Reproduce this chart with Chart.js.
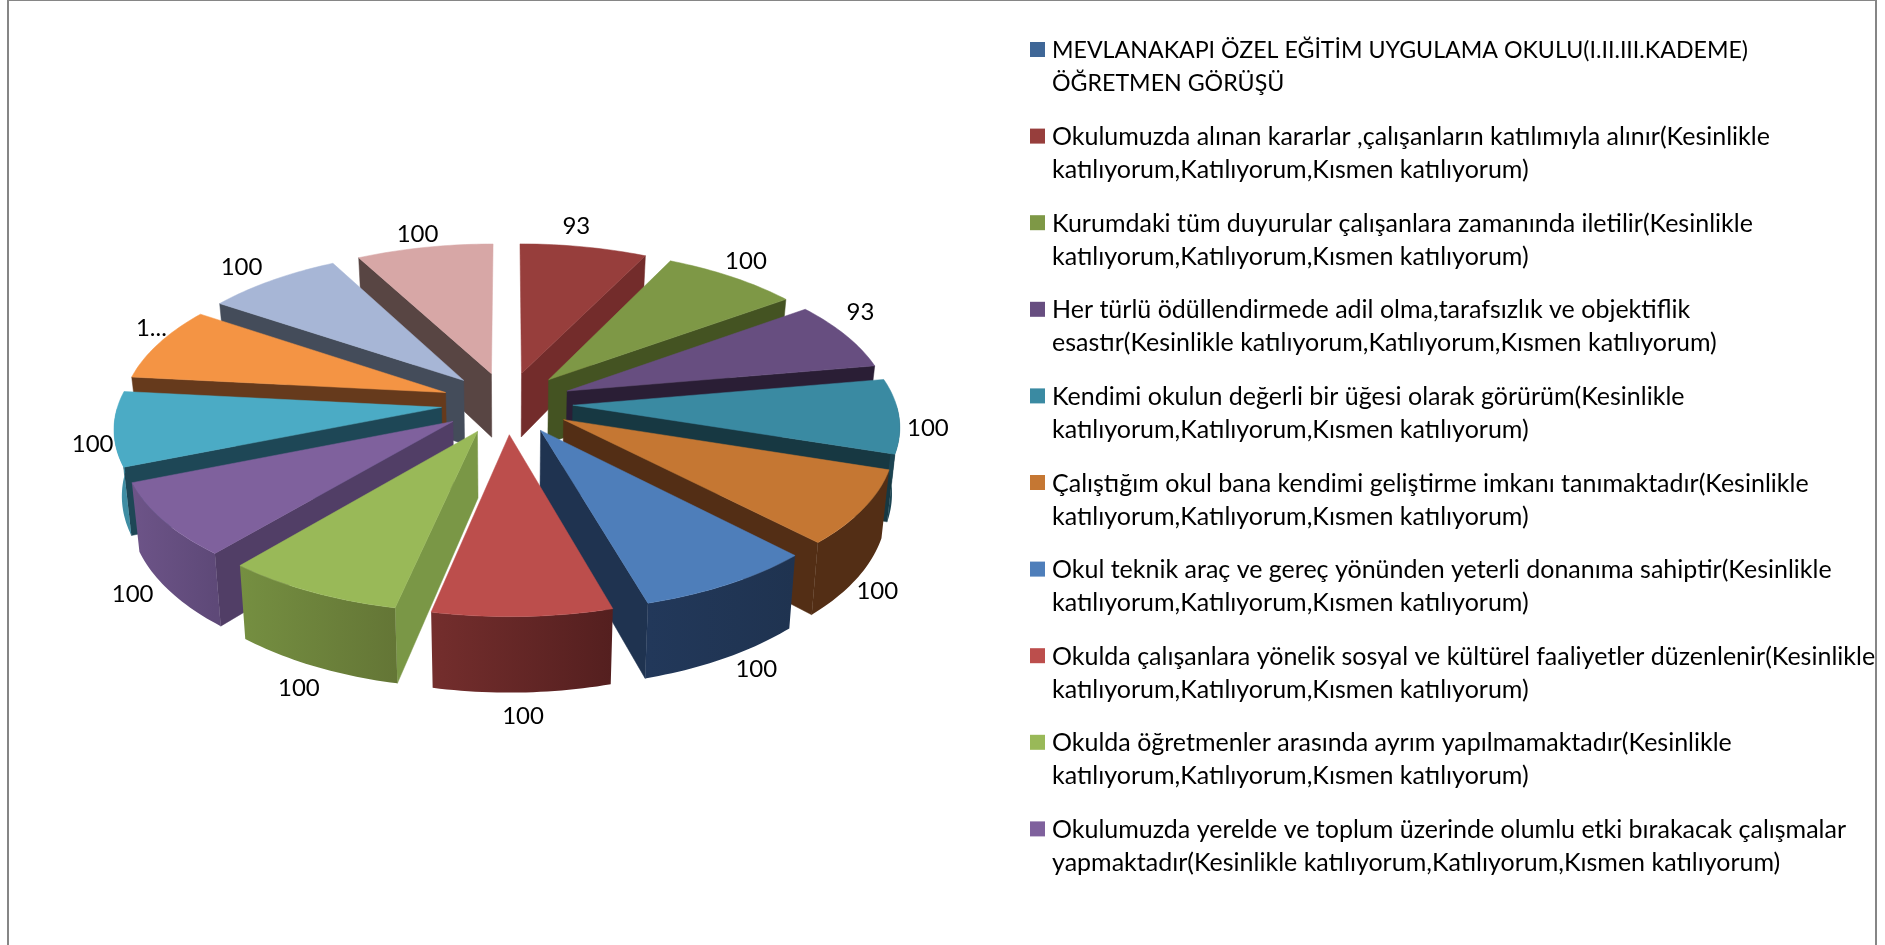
<!DOCTYPE html>
<html lang="tr">

<head>
  <meta charset="utf-8">
  <script src="https://cdn.jsdelivr.net/npm/chart.js@4"></script>
  <style>
    html, body {
      margin: 0;
      background: #FFFFFF;
      overflow: hidden;
    }

    .frame {
      position: absolute;
      left: 7px;
      top: 0;
      width: 1866px;
      height: 960px;
      border-left: 2px solid #868686;
      border-right: 2px solid #868686;
      border-top: 1px solid #868686;
    }

    canvas {
      position: absolute;
      left: 0;
      top: 0;
    }
  </style>
</head>

<body>
  <div class="frame"></div>
  <canvas id="pieChart" width="1885" height="945"></canvas>

  <script>
    const legendLines = [
      ['MEVLANAKAPI ÖZEL EĞİTİM UYGULAMA OKULU(I.II.III.KADEME)', 'ÖĞRETMEN GÖRÜŞÜ'],
      ['Okulumuzda alınan kararlar ,çalışanların katılımıyla alınır(Kesinlikle', 'katılıyorum,Katılıyorum,Kısmen katılıyorum)'],
      ['Kurumdaki tüm duyurular çalışanlara zamanında iletilir(Kesinlikle', 'katılıyorum,Katılıyorum,Kısmen katılıyorum)'],
      ['Her türlü ödüllendirmede adil olma,tarafsızlık ve objektiflik', 'esastır(Kesinlikle katılıyorum,Katılıyorum,Kısmen katılıyorum)'],
      ['Kendimi okulun değerli bir üğesi olarak görürüm(Kesinlikle', 'katılıyorum,Katılıyorum,Kısmen katılıyorum)'],
      ['Çalıştığım okul bana kendimi geliştirme imkanı tanımaktadır(Kesinlikle', 'katılıyorum,Katılıyorum,Kısmen katılıyorum)'],
      ['Okul teknik araç ve gereç yönünden yeterli donanıma sahiptir(Kesinlikle', 'katılıyorum,Katılıyorum,Kısmen katılıyorum)'],
      ['Okulda çalışanlara yönelik sosyal ve kültürel faaliyetler düzenlenir(Kesinlikle', 'katılıyorum,Katılıyorum,Kısmen katılıyorum)'],
      ['Okulda öğretmenler arasında ayrım yapılmamaktadır(Kesinlikle', 'katılıyorum,Katılıyorum,Kısmen katılıyorum)'],
      ['Okulumuzda yerelde ve toplum üzerinde olumlu etki bırakacak çalışmalar', 'yapmaktadır(Kesinlikle katılıyorum,Katılıyorum,Kısmen katılıyorum)']
    ];

    // ilk kategori başlık satırı, değeri yok
    const values = [0, 93, 100, 93, 100, 100, 100, 100, 100, 100, 100, 100, 100, 100];
    const valueLabels = ['', '93', '100', '93', '100', '100', '100', '100', '100', '100', '100', '1...', '100', '100'];

    const topColors = ['#3F6797', '#973E3C', '#7E9846', '#674E80', '#3A8AA2', '#C57733', '#4E7EBA', '#BC4E4C', '#99B958', '#7F619D', '#4BABC5', '#F49444', '#A7B6D6', '#D7A7A6'];
    const sideColors = ['#1F3350', '#732C2B', '#445322', '#2A1E35', '#173842', '#532E15', '#1F3350', '#5C2423', '#7A9746', '#513E66', '#1E4756', '#663A1C', '#444C5A', '#584543'];
    const rimLeft = ['#1F3350', '#732C2B', '#445322', '#2A1E35', '#1C4452', '#532E15', '#22385A', '#742E2D', '#758F41', '#6D5488', '#4499B1', '#663A1C', '#444C5A', '#584543'];
    const rimRight = ['#1F3350', '#732C2B', '#445322', '#2A1E35', '#1C4452', '#532E15', '#1F3350', '#541F1F', '#647636', '#5E4978', '#3F8DA3', '#663A1C', '#444C5A', '#584543'];

    // etiket kaydırmaları (px), Excel'in yerleşimine uysun diye elle
    const labelShiftX = [0, -13, -3, -12, -4, -19, 6, -1, 7, 1, 12, 20, -13, -1];
    const labelShiftY = [0, -9, -6, -18, -6, 22, -2, 2, 7, 8, -12, -10, -4, -2];

    // 3B görünüm ayarları
    const explode = 0.204;
    const tilt = 0.47;
    const perspective = 0.12;
    const depth = 65;
    const taper = 0.98;
    const labelRadius = 1.1;

    function project(arc, mid, angle, r) {
      const u = explode * Math.cos(mid) + r * Math.cos(angle);
      const v = explode * Math.sin(mid) + r * Math.sin(angle);
      const s = 1 / (1 - perspective * v);
      const x = arc.x + arc.outerRadius * u * s;
      return {
        x,
        y: arc.y + arc.outerRadius * tilt * v * s,
        bx: arc.x + (x - arc.x) * taper,
        drop: depth * s
      };
    }

    function drawRim(ctx, arc, mid, from, to, bottom) {
      const steps = Math.max(2, Math.ceil((to - from) / 0.02));
      const pts = [];
      for (let i = 0; i <= steps; i++) {
        pts.push(project(arc, mid, from + (to - from) * i / steps, 1));
      }
      if (bottom) {
        pts.reverse();
      }
      pts.forEach(p => ctx.lineTo(bottom ? p.bx : p.x, p.y + (bottom ? p.drop : 0)));
    }

    function drawWall(ctx, arc, mid, angle, color) {
      const a = project(arc, mid, angle, 0);
      const b = project(arc, mid, angle, 1);
      ctx.fillStyle = color;
      ctx.strokeStyle = color;
      ctx.lineWidth = 0.5;
      ctx.beginPath();
      ctx.moveTo(a.x, a.y);
      ctx.lineTo(b.x, b.y);
      ctx.lineTo(b.bx, b.y + b.drop);
      ctx.lineTo(a.bx, a.y + a.drop);
      ctx.closePath();
      ctx.fill();
      ctx.stroke();
    }

    function drawSlice(ctx, arc, i) {
      const start = arc.startAngle;
      const end = arc.endAngle;
      const mid = (start + end) / 2;

      if (Math.cos(start) < 0) {
        drawWall(ctx, arc, mid, start, sideColors[i]);
      }
      if (Math.cos(end) > 0) {
        drawWall(ctx, arc, mid, end, sideColors[i]);
      }

      // dış duvar, sadece öne bakan kısım
      const from = Math.max(start, 0);
      const to = Math.min(end, Math.PI);
      if (to > from) {
        const left = project(arc, mid, to, 1);
        const right = project(arc, mid, from, 1);
        const grad = ctx.createLinearGradient(left.x, 0, right.x, 0);
        grad.addColorStop(0, rimLeft[i]);
        grad.addColorStop(1, rimRight[i]);
        ctx.fillStyle = grad;
        ctx.beginPath();
        drawRim(ctx, arc, mid, from, to, false);
        drawRim(ctx, arc, mid, from, to, true);
        ctx.closePath();
        ctx.fill();
      }

      const apex = project(arc, mid, start, 0);
      ctx.fillStyle = topColors[i];
      ctx.strokeStyle = topColors[i];
      ctx.lineWidth = 0.5;
      ctx.beginPath();
      ctx.moveTo(apex.x, apex.y);
      drawRim(ctx, arc, mid, start, end, false);
      ctx.closePath();
      ctx.fill();
      ctx.stroke();
    }

    const pie3d = {
      id: 'pie3d',
      beforeDatasetDraw(chart) {
        const ctx = chart.ctx;
        const arcs = chart.getDatasetMeta(0).data;
        const order = arcs
          .map((arc, i) => ({ arc, i }))
          .filter(d => d.arc.endAngle > d.arc.startAngle)
          .sort((a, b) => Math.sin((a.arc.startAngle + a.arc.endAngle) / 2) - Math.sin((b.arc.startAngle + b.arc.endAngle) / 2));
        ctx.save();
        order.forEach(d => drawSlice(ctx, d.arc, d.i));
        ctx.restore();
        return false;
      },
      afterDraw(chart) {
        const ctx = chart.ctx;
        ctx.save();
        ctx.fillStyle = '#000000';
        ctx.textBaseline = 'middle';

        // değer etiketleri
        ctx.font = '24px Lato';
        ctx.textAlign = 'center';
        chart.getDatasetMeta(0).data.forEach((arc, i) => {
          if (!valueLabels[i]) return;
          const mid = (arc.startAngle + arc.endAngle) / 2;
          const p = project(arc, mid, mid, labelRadius);
          const front = Math.max(0, Math.sin(mid));
          ctx.fillText(valueLabels[i], p.x + labelShiftX[i], p.y + p.drop * Math.sqrt(front) + labelShiftY[i]);
        });

        // açıklama
        ctx.textAlign = 'left';
        legendLines.forEach((lines, i) => {
          const y = 49 + i * 86.6;
          ctx.fillStyle = topColors[i];
          ctx.fillRect(1030, y - 7, 15, 15);
          ctx.fillStyle = '#000000';
          // büyük harfli başlık satırı Lato'da geniş kalıyor
          ctx.font = i === 0 ? '23.2px Lato' : '25px Lato';
          lines.forEach((line, j) => ctx.fillText(line, 1052, y + 1.5 + j * 33));
        });
        ctx.restore();
      }
    };

    new Chart(document.getElementById('pieChart'), {
      type: 'pie',
      data: {
        labels: legendLines.map(l => l.join(' ')),
        datasets: [{
          data: values,
          backgroundColor: topColors,
          borderWidth: 0
        }]
      },
      options: {
        responsive: false,
        animation: false,
        layout: {
          padding: { left: 184, right: 1055, top: 80, bottom: 219 }
        },
        plugins: {
          legend: { display: false },
          tooltip: { enabled: false }
        }
      },
      plugins: [pie3d]
    });
  </script>
</body>

</html>
